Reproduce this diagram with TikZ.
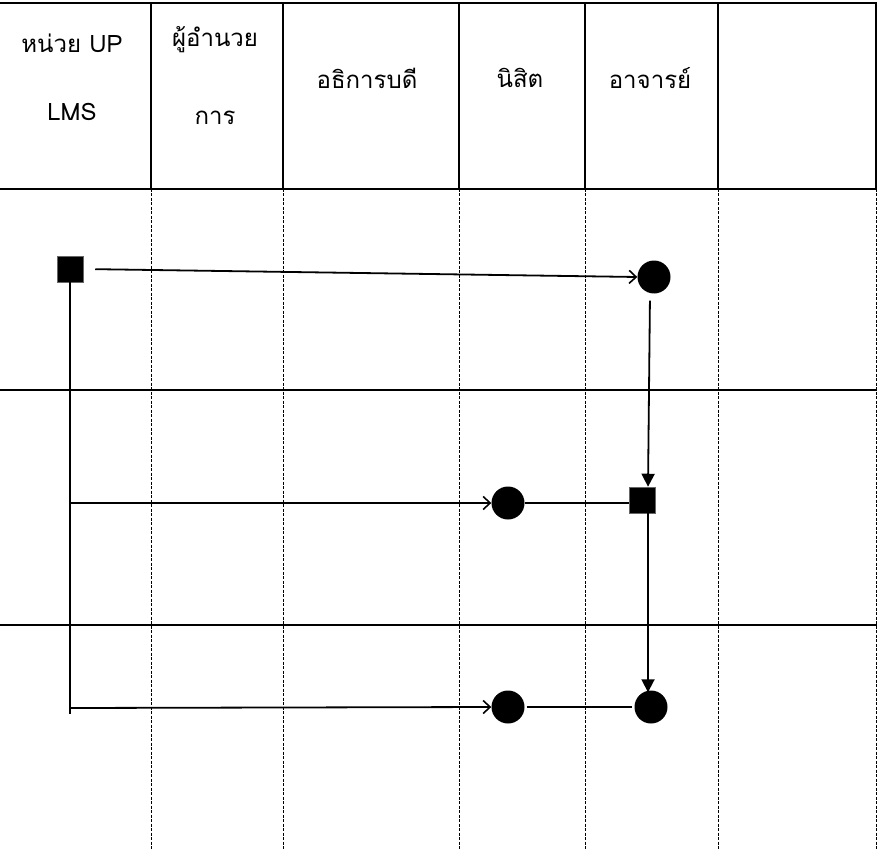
\documentclass[tikz,border=0pt]{standalone}
\usepackage{fontspec}
\newfontfamily\thaifont[Script=Thai]{Loma}
\usetikzlibrary{arrows.meta}
\begin{document}
\begin{tikzpicture}[x=1pt,y=-1pt,
  grid/.style={line width=2pt},
  lane/.style={line width=0.8pt, dash pattern=on 3pt off 1.5pt},
  conn/.style={line width=1.8pt},
  openarr/.style={conn, -{Straight Barb[length=7pt,width=13pt,line width=1.6pt]}},
  fillarr/.style={conn, -{Triangle[length=13pt,width=13pt]}},
  sq/.style={fill=black, draw=black!60, line width=0.5pt, minimum size=26pt, inner sep=0pt, rectangle},
  dot/.style={fill=black, circle, minimum size=33pt, inner sep=0pt},
  hdr/.style={font=\thaifont\fontsize{24}{28}\selectfont, inner sep=0pt, anchor=center}
]
\useasboundingbox (0,0) rectangle (877,850);
% header grid
\draw[grid] (0,3) -- (877,3);
\draw[grid] (0,189) -- (877,189);
\foreach \x in {151,283,459,585,718,876} \draw[grid] (\x,3) -- (\x,189);
\foreach \x in {151,283,459,585,718,876} \draw[lane] (\x,189) -- (\x,850);
\draw[grid] (0,390) -- (877,390);
\draw[grid] (0,625) -- (877,625);
% header text
\node[hdr] (h1a) at (72,43) {หน่วย UP};
\node[hdr] (h1b) at (72,112) {LMS};
\node[hdr] (h2a) at (215,40) {ผู้อำนวย};
\node[hdr] (h2b) at (215,118) {การ};
\node[hdr] (h3) at (367,78) {อธิการบดี};
\node[hdr] (h4) at (520,78) {นิสิต};
\node[hdr] (h5) at (650,78) {อาจารย์};
% nodes
\node[sq] (s1) at (70,269) {};
\node[dot] (c1) at (654,277) {};
\node[sq] (s2) at (642,500) {};
\node[dot] (c2) at (508,503) {};
\node[dot] (c3) at (651,707) {};
\node[dot] (c4) at (508,707) {};
\coordinate (b0) at (70,714);
\coordinate (b2) at (70,503);
\coordinate (b3) at (70,708);
% connectors
\draw[conn] (s1.south) -- (b0);
\draw[openarr, shorten <=12pt] (s1.east) -- (c1.west);
\draw[fillarr, shorten <=7pt] (c1.south -| 650,0) -- (s2.north -| 648,0);
\draw[openarr] (b2) -- (c2.west);
\draw[conn] (c2.east) -- (c2.east -| s2.west);
\draw[fillarr, shorten >=-2pt] (s2.south -| 648,0) -- (c3.north -| 648,0);
\draw[openarr] (b3) -- (c4.west);
\draw[conn, shorten <=2pt, shorten >=2pt] (c4.east) -- (c3.west);
\end{tikzpicture}
\end{document}
